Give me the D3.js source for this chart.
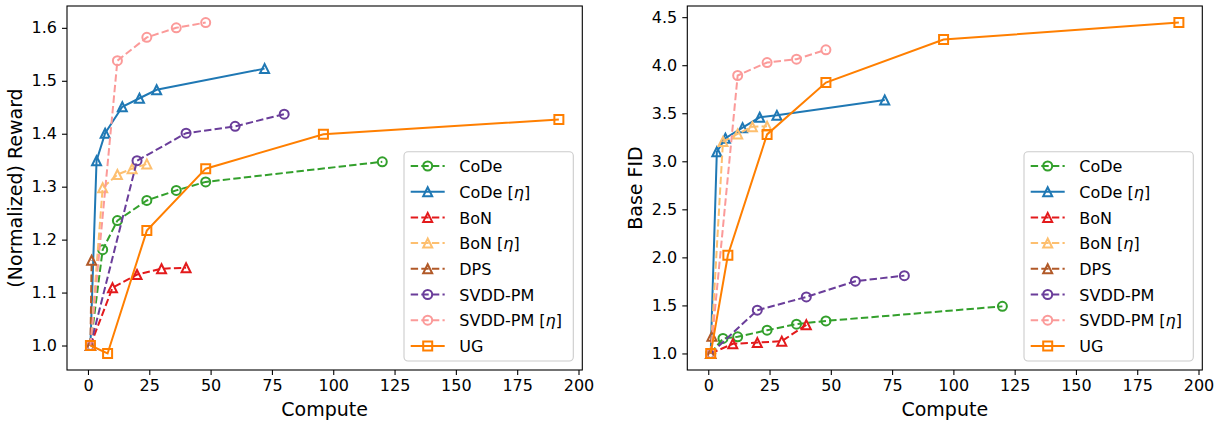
<!DOCTYPE html>
<html lang="en">
  <head>
    <meta charset="utf-8">
    <title>Reward / FID vs Compute</title>
    <style>
      body { margin: 0; padding: 0; background: #fff; }
      svg text { font-family: 'DejaVu Sans', sans-serif; fill: #000; }
    </style>
  </head>
  <body>
    <div id="chart"></div>
    <script src="https://cdn.jsdelivr.net/npm/d3@7"></script>
    <script>

    // compute budgets per method
    var computeCoDe    = [1, 6, 12, 24, 36, 48, 120];
    var computeCoDeEta = [1, 3.5, 7, 14, 21, 28, 72];
    var computeBoN     = [1, 10, 20, 30, 40];
    var computeBoNEta  = [1, 6, 12, 18, 24];
    var computeDPS     = [1, 1.5];
    var computeSVDD    = [1, 20, 40, 60, 80];
    var computeSVDDEta = [1, 12, 24, 36, 48];
    var computeUG      = [1, 8, 24, 48, 96, 192];

    // (normalized) reward, left panel
    var rewardCoDe    = [1.0, 1.181, 1.236, 1.274, 1.293, 1.309, 1.347];
    var rewardCoDeEta = [1.0, 1.349, 1.401, 1.451, 1.467, 1.483, 1.523];
    var rewardBoN     = [1.0, 1.109, 1.134, 1.145, 1.147];
    var rewardBoNEta  = [1.0, 1.298, 1.323, 1.334, 1.343];
    var rewardDPS     = [1.0, 1.161];
    var rewardSVDD    = [1.0, 1.349, 1.401, 1.414, 1.437];
    var rewardSVDDEta = [1.0, 1.538, 1.582, 1.600, 1.610];
    var rewardUG      = [1.0, 0.985, 1.217, 1.334, 1.399, 1.427];

    // base FID, right panel
    var fidCoDe    = [1.0, 1.156, 1.173, 1.242, 1.305, 1.339, 1.490];
    var fidCoDeEta = [1.0, 3.100, 3.240, 3.350, 3.458, 3.478, 3.638];
    var fidBoN     = [1.0, 1.100, 1.113, 1.128, 1.298];
    var fidBoNEta  = [1.0, 3.205, 3.285, 3.360, 3.365];
    var fidDPS     = [1.0, 1.180];
    var fidSVDD    = [1.0, 1.450, 1.588, 1.752, 1.810];
    var fidSVDDEta = [1.0, 3.893, 4.028, 4.063, 4.160];
    var fidUG      = [1.0, 2.022, 3.280, 3.820, 4.267, 4.444];

    var labels  = ['CoDe', 'CoDe [η]', 'BoN', 'BoN [η]', 'DPS', 'SVDD-PM', 'SVDD-PM [η]', 'UG'];
    var colors  = ['#33a02c', '#1f78b4', '#e31a1c', '#fdbf6f', '#b15928', '#6a3d9a', '#fb9a99', '#ff7f00'];
    var markers = ['circle', 'triangle', 'triangle', 'triangle', 'triangle', 'circle', 'circle', 'square'];
    var dashed  = [true, false, true, true, true, true, true, false];
    var computes = [computeCoDe, computeCoDeEta, computeBoN, computeBoNEta, computeDPS, computeSVDD, computeSVDDEta, computeUG];

    var xTicks = [0, 25, 50, 75, 100, 125, 150, 175, 200];
    var rewardTicks = [1.0, 1.1, 1.2, 1.3, 1.4, 1.5, 1.6];
    var fidTicks = [1.0, 1.5, 2.0, 2.5, 3.0, 3.5, 4.0, 4.5];

    var width = 1220, height = 421;
    var svg = d3.select('#chart').append('svg')
      .attr('width', width)
      .attr('height', height);

    var ms = 9; // marker size in px

    function markerPath(type) {
      var h = ms / 2;
      if (type === 'circle') {
        return 'M' + h + ',0A' + h + ',' + h + ' 0 1,1 ' + (-h) + ',0A' + h + ',' + h + ' 0 1,1 ' + h + ',0Z';
      }
      if (type === 'triangle') {
        return 'M0,' + (-h) + 'L' + (-h) + ',' + h + 'L' + h + ',' + h + 'Z';
      }
      return 'M' + (-h) + ',' + (-h) + 'H' + h + 'V' + h + 'H' + (-h) + 'Z';
    }

    function padded(ext) {
      var p = (ext[1] - ext[0]) * 0.05;
      return [ext[0] - p, ext[1] + p];
    }

    function labelWithEta(sel, txt) {
      var parts = txt.split('η');
      sel.append('tspan').text(parts[0]);
      if (parts.length > 1) {
        sel.append('tspan').attr('font-style', 'italic').text('η');
        sel.append('tspan').text(parts[1]);
      }
    }

    function drawPanel(left, right, values, yTicks, yLabel, yLabelX) {
      var top = 6, bottom = 370;
      var g = svg.append('g');

      var allX = d3.merge(computes);
      var allY = d3.merge(values);
      var x = d3.scaleLinear().domain(padded(d3.extent(allX))).range([left, right]);
      var y = d3.scaleLinear().domain(padded(d3.extent(allY))).range([bottom, top]);

      var xAxis = g.append('g')
        .attr('transform', 'translate(0,' + bottom + ')')
        .call(d3.axisBottom(x).tickValues(xTicks).tickSize(5).tickPadding(5).tickFormat(d3.format('d')));
      var yAxis = g.append('g')
        .attr('transform', 'translate(' + left + ',0)')
        .call(d3.axisLeft(y).tickValues(yTicks).tickSize(5).tickPadding(5).tickFormat(d3.format('.1f')));
      [xAxis, yAxis].forEach(function(a) {
        a.select('.domain').remove();
        a.selectAll('line').attr('stroke', '#000').attr('stroke-width', 1.1);
        a.selectAll('text').attr('font-size', 16).attr('font-family', 'DejaVu Sans').attr('fill', '#000');
      });

      var line = d3.line().x(function(d) { return x(d[0]); }).y(function(d) { return y(d[1]); });

      computes.forEach(function(cx, i) {
        var pts = cx.map(function(c, j) { return [c, values[i][j]]; });
        var s = g.append('g');
        s.append('path')
          .attr('d', line(pts))
          .attr('fill', 'none')
          .attr('stroke', colors[i])
          .attr('stroke-width', 2)
          .attr('stroke-dasharray', dashed[i] ? '7.4,3.2' : null);
        s.selectAll('.m').data(pts).enter().append('path')
          .attr('class', 'm')
          .attr('d', markerPath(markers[i]))
          .attr('transform', function(d) { return 'translate(' + x(d[0]) + ',' + y(d[1]) + ')'; })
          .attr('fill', 'none')
          .attr('stroke', colors[i])
          .attr('stroke-width', 2)
          .attr('stroke-linejoin', 'miter');
      });

      // frame
      g.append('rect')
        .attr('x', left).attr('y', top)
        .attr('width', right - left).attr('height', bottom - top)
        .attr('fill', 'none').attr('stroke', '#000').attr('stroke-width', 1.1);

      g.append('text')
        .attr('x', (left + right) / 2).attr('y', 415.5)
        .attr('text-anchor', 'middle').attr('font-size', 19)
        .text('Compute');
      g.append('text')
        .attr('transform', 'translate(' + yLabelX + ',' + ((top + bottom) / 2) + ') rotate(-90)')
        .attr('text-anchor', 'middle').attr('font-size', 19)
        .text(yLabel);

      // legend
      var bw = 169.3, bh = 209.3;
      var bx = right - 9 - bw, by = bottom - 9 - bh;
      var lg = g.append('g');
      lg.append('rect')
        .attr('x', bx).attr('y', by).attr('width', bw).attr('height', bh)
        .attr('rx', 4).attr('ry', 4)
        .attr('fill', '#fff').attr('fill-opacity', 0.8)
        .attr('stroke', '#ccc').attr('stroke-width', 1.1);
      labels.forEach(function(lab, i) {
        var cy = by + 14.3 + i * 25.7;
        lg.append('line')
          .attr('x1', bx + 6.7).attr('x2', bx + 40.7)
          .attr('y1', cy).attr('y2', cy)
          .attr('stroke', colors[i]).attr('stroke-width', 2)
          .attr('stroke-dasharray', dashed[i] ? '7.4,3.2' : null);
        lg.append('path')
          .attr('d', markerPath(markers[i]))
          .attr('transform', 'translate(' + (bx + 23.7) + ',' + cy + ')')
          .attr('fill', 'none').attr('stroke', colors[i]).attr('stroke-width', 2);
        var t = lg.append('text')
          .attr('x', bx + 55.3).attr('y', cy + 6.2)
          .attr('font-size', 16);
        labelWithEta(t, lab);
      });
    }

    drawPanel(67, 582.3,
      [rewardCoDe, rewardCoDeEta, rewardBoN, rewardBoNEta, rewardDPS, rewardSVDD, rewardSVDDEta, rewardUG],
      rewardTicks, '(Normalized) Reward', 22.2);
    drawPanel(687.3, 1202.3,
      [fidCoDe, fidCoDeEta, fidBoN, fidBoNEta, fidDPS, fidSVDD, fidSVDDEta, fidUG],
      fidTicks, 'Base FID', 642.2);

    </script>
  </body>
</html>
